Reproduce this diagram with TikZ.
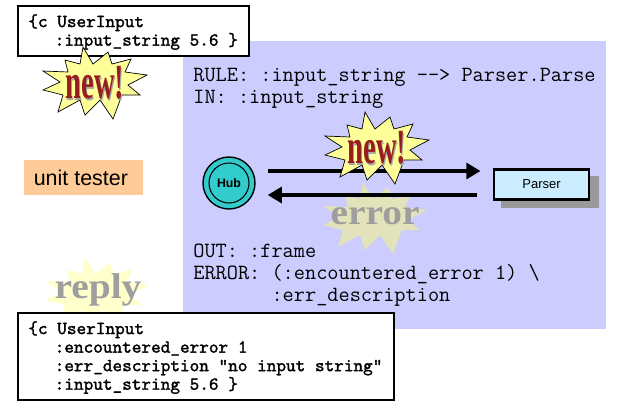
\documentclass[tikz,border=0pt]{standalone}
\usepackage{fontspec}
\setmainfont{Liberation Sans}
\newfontfamily\burstfont{Liberation Serif}
\newfontfamily\msgfont[FakeBold=1.6]{Latin Modern Mono}
\usetikzlibrary{calc,arrows.meta}
\definecolor{panelblue}{HTML}{CCCCFF}
\definecolor{tealhub}{HTML}{33CCCC}
\definecolor{parserblue}{HTML}{CCECFF}
\definecolor{testerorange}{HTML}{FFCC99}
\definecolor{newred}{HTML}{981E1E}
\definecolor{newyellow}{HTML}{FFFF99}
\definecolor{erroryellow}{HTML}{E3E3BB}
\definecolor{replyyellow}{HTML}{FFFFCC}
\def\burst[#1](#2){\draw[#1,shift={(#2)}] (-12,-35) -- (-2,-18) -- (13,-30) -- (17,-18) -- (36,-23) -- (30,-10) -- (52,-7) -- (33,3) -- (45,13) -- (27,13) -- (18,37) -- (5,18) -- (-10,33) -- (-15,18) -- (-37,30) -- (-32,13) -- (-52,8) -- (-35,0) -- (-52,-11) -- (-27,-10) -- (-30,-22) -- (-15,-18) -- cycle;}
\def\msgindent{\hspace*{15pt}}
\tikzset{
	msgbox/.style={draw=black, fill=white, line width=0.6pt},
	codetext/.style={anchor=north west, inner sep=0pt, align=left, font=\ttfamily\fontsize{12.35}{12.47}\selectfont},
	msgtext/.style={anchor=north west, inner sep=0pt, align=left, font=\msgfont\fontsize{10.45}{10.55}\selectfont},
	newword/.style={inner sep=0pt, xscale=0.58, font=\burstfont\bfseries\fontsize{28}{28}\selectfont},
	greyword/.style={inner sep=0pt, text=black!38, font=\burstfont\bfseries\fontsize{20.4}{20.4}\selectfont},
	flowarrow/.style={line width=1.9pt, -{Triangle[length=8pt,width=9pt]}},
}

\begin{document}
\begin{tikzpicture}[x=0.02cm, y=-0.02cm]
		%%%%% START %%%%%
		\useasboundingbox (0, 0) rectangle (623, 407);
		
		\fill[panelblue] (183, 41) rectangle (606, 329);
		
		\draw[msgbox] (18, 6) rectangle (249, 56);
		\node[msgtext] (inputmsg) at (28, 14) {\{c UserInput\\\msgindent:input\_string 5.6 \}};
		
		\burst[fill=newyellow, draw=black, line width=0.4pt](95, 82)
		\node[newword, text=black!35] at (96, 85) {new!};
		\node[newword, text=newred] (newleft) at (95, 83) {new!};
		
		\node[fill=testerorange, minimum width=119*0.02cm, minimum height=35*0.02cm, inner sep=0pt, font=\fontsize{12.2}{14}\selectfont] (tester) at (83.5, 177.5) {\hspace*{-3pt}unit tester};
		
		\node[codetext] (rule) at (193, 68) {RULE: :input\_string --> Parser.Parse\\IN: :input\_string};
		
		\node[circle, draw=black, fill=tealhub, line width=0.8pt, minimum size=52*0.02cm, inner sep=0pt] (hub) at (229, 183) {};
		\node[circle, draw=black, line width=0.6pt, minimum size=40*0.02cm, inner sep=0pt, font=\bfseries\fontsize{7}{8}\selectfont] at (hub) {Hub};
		
		\fill[black!40] (501, 176) rectangle (599, 208);
		\node[draw=black, fill=parserblue, line width=1.7pt, minimum width=95*0.02cm, minimum height=30*0.02cm, inner sep=0pt, font=\fontsize{7.4}{9}\selectfont] (parser) at (541.5, 184) {Parser};
		
		\burst[fill=erroryellow, draw=none](375, 217)
		\node[greyword, xscale=1.1] (errorword) at (375, 216) {error};
		
		\draw[flowarrow] ($(parser.west)+(-16,11)$) -- ($(hub.east)+(12,12)$);
		\draw[flowarrow] ($(hub.east)+(12,-12)$) -- ($(parser.west)+(-12,-13)$);
		
		\burst[fill=newyellow, draw=black, line width=0.4pt](377, 147)
		\node[newword, text=black!35] at (378, 150) {new!};
		\node[newword, text=newred] (newmid) at (377, 148) {new!};
		
		\node[codetext] (out) at (193, 244) {OUT: :frame\\ERROR: (:encountered\_error 1) \textbackslash\\\ \ \ \ \ \ \ :err\_description};
		
		\burst[fill=replyyellow, draw=none](97, 292)
		\node[greyword, xscale=1.1] (replyword) at (98, 290) {reply};
		
		\draw[msgbox] (18, 313) rectangle (394, 400);
		\node[msgtext] (replymsg) at (28, 321) {\{c UserInput\\\msgindent:encountered\_error 1\\\msgindent:err\_description "no input string"\\\msgindent:input\_string 5.6 \}};
		%%%%% END %%%%%
	\end{tikzpicture}
\end{document}
